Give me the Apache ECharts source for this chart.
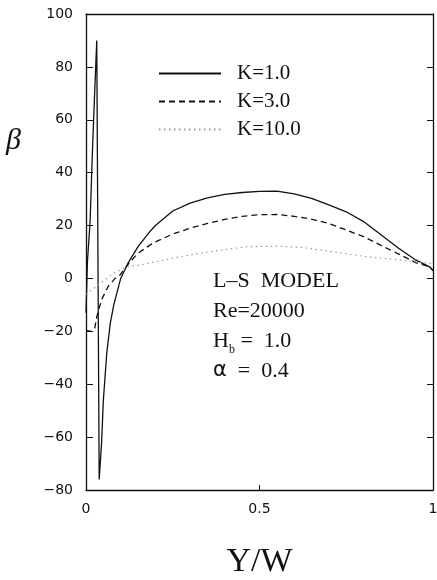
<!DOCTYPE html>
<html>
<head>
<meta charset="utf-8">
<script src="https://cdn.jsdelivr.net/npm/echarts@6/dist/echarts.min.js"></script>
<style>
  html, body { margin: 0; padding: 0; background: #fff; }
  #chart { width: 437px; height: 580px; }
</style>
</head>
<body>
<div id="chart"></div>
<script>
// beta vs Y/W, L-S model
var k1X = [0, 0.004, 0.012, 0.019, 0.024, 0.031, 0.038, 0.045, 0.05, 0.06, 0.07, 0.08, 0.1, 0.122, 0.15, 0.184, 0.2, 0.25, 0.3, 0.35, 0.4, 0.45, 0.5, 0.55, 0.6, 0.65, 0.7, 0.75, 0.8, 0.85, 0.9, 0.95, 0.99, 1];
var k1Y = [-13, 6, 22, 50, 67, 90, -76, -62, -46, -28, -17, -10, 0, 6, 12, 17.7, 20, 25.5, 28.5, 30.5, 31.8, 32.5, 32.9, 33, 32, 30.3, 27.8, 25.2, 21.5, 16.5, 11.5, 7, 4.4, 3];

var k3X = [0, 0.015, 0.025, 0.031, 0.045, 0.064, 0.084, 0.098, 0.127, 0.15, 0.184, 0.2, 0.25, 0.3, 0.35, 0.4, 0.45, 0.5, 0.55, 0.6, 0.65, 0.7, 0.75, 0.8, 0.85, 0.9, 0.95, 0.99, 1];
var k3Y = [-19.6, -20, -19, -14.5, -8, -3, 0, 1.3, 6.3, 9.5, 12.6, 13.8, 16.8, 19, 20.8, 22.3, 23.5, 24.1, 24.2, 23.5, 22.4, 20.8, 18.3, 15.8, 12.5, 9.3, 6, 4.4, 3];

var k10X = [0, 0.02, 0.05, 0.08, 0.12, 0.156, 0.2, 0.271, 0.35, 0.463, 0.55, 0.617, 0.712, 0.809, 0.905, 0.991, 1];
var k10Y = [-6, -4, -1, 2, 4.5, 5.1, 6.3, 8.2, 10, 12, 12.2, 11.8, 10.1, 8.2, 7, 5.7, 5.5];

var seriesNames = ['K=1.0', 'K=3.0', 'K=10.0'];
var xTicks = [0, 0.5, 1];
var yMin = -80, yMax = 100, yStep = 20;

function pairs(xs, ys) {
    var out = [];
    for (var i = 0; i < xs.length; i++) {
        out.push([xs[i], ys[i]]);
    }
    return out;
}

var chart = echarts.init(document.getElementById('chart'));
var serif = '"Liberation Serif", "DejaVu Serif", serif';
var sans = '"DejaVu Sans", sans-serif';

chart.setOption({
    animation: false,
    backgroundColor: '#fff',
    grid: { left: 86, right: 4, top: 14, bottom: 90, containLabel: false, outerBoundsMode: 'none' },
    legend: {
        orient: 'vertical',
        left: 153,
        top: 58,
        itemWidth: 62,
        itemHeight: 14,
        itemGap: 7,
        data: seriesNames,
        itemStyle: { opacity: 0 },
        textStyle: {
            fontFamily: serif,
            fontSize: 21,
            color: '#111',
            padding: [0, 0, 0, 11]
        }
    },
    xAxis: [
        {
            type: 'value',
            min: 0,
            max: 1,
            interval: 0.5,
            name: 'Y/W',
            nameLocation: 'middle',
            nameGap: 55,
            nameTextStyle: { fontFamily: serif, fontSize: 34, color: '#111' },
            axisLine: { onZero: false, lineStyle: { color: '#111', width: 1.3 } },
            axisTick: { inside: true, length: 5, lineStyle: { color: '#111' } },
            axisLabel: {
                fontFamily: sans,
                fontSize: 14,
                color: '#111',
                margin: 12,
                formatter: function (v) {
                    return xTicks.indexOf(v) >= 0 ? String(v) : '';
                }
            },
            splitLine: { show: false }
        },
        {
            type: 'value',
            position: 'top',
            min: 0,
            max: 1,
            interval: 0.5,
            axisLine: { onZero: false, lineStyle: { color: '#111', width: 1.3 } },
            axisTick: { show: false },
            axisLabel: { show: false },
            splitLine: { show: false }
        }
    ],
    yAxis: [
        {
            type: 'value',
            min: yMin,
            max: yMax,
            interval: yStep,
            axisLine: { onZero: false, lineStyle: { color: '#111', width: 1.3 } },
            axisTick: { inside: true, length: 7, lineStyle: { color: '#111' } },
            axisLabel: {
                fontFamily: sans,
                fontSize: 14,
                color: '#111',
                margin: 13,
                formatter: function (v) {
                    return String(v).replace('-', '\u2212');
                }
            },
            splitLine: { show: false }
        },
        {
            type: 'value',
            position: 'right',
            min: yMin,
            max: yMax,
            interval: yStep,
            axisLine: { show: true, onZero: false, lineStyle: { color: '#111', width: 1.3 } },
            axisTick: { inside: true, length: 6, lineStyle: { color: '#111' } },
            axisLabel: { show: false },
            splitLine: { show: false }
        }
    ],
    graphic: [
        {
            type: 'text',
            left: 6,
            top: 126,
            style: {
                text: 'β',
                font: 'italic 30px ' + serif,
                fill: '#111'
            }
        },
        {
            type: 'text',
            left: 213,
            top: 266,
            style: {
                text: 'L\u2013S  MODEL\nRe=20000\nH{sub|b} =  1.0\n{a|α}  =  0.4',
                font: '22px ' + serif,
                fill: '#111',
                lineHeight: 30,
                rich: {
                    sub: { fontFamily: serif, fontSize: 12, verticalAlign: 'bottom', padding: [8, 0, 0, 0] },
                    a: { fontFamily: sans, fontSize: 21 }
                }
            }
        }
    ],
    series: [
        {
            name: seriesNames[0],
            type: 'line',
            symbol: 'none',
            data: pairs(k1X, k1Y),
            lineStyle: { color: '#111', width: 1.3, type: 'solid' },
            itemStyle: { color: '#111' }
        },
        {
            name: seriesNames[1],
            type: 'line',
            symbol: 'none',
            data: pairs(k3X, k3Y),
            lineStyle: { color: '#111', width: 1.3, type: [6, 4] },
            itemStyle: { color: '#111' }
        },
        {
            name: seriesNames[2],
            type: 'line',
            symbol: 'none',
            data: pairs(k10X, k10Y),
            lineStyle: { color: '#999', width: 1.2, type: [1.5, 3.5] },
            itemStyle: { color: '#999' }
        }
    ]
});
</script>
</body>
</html>
